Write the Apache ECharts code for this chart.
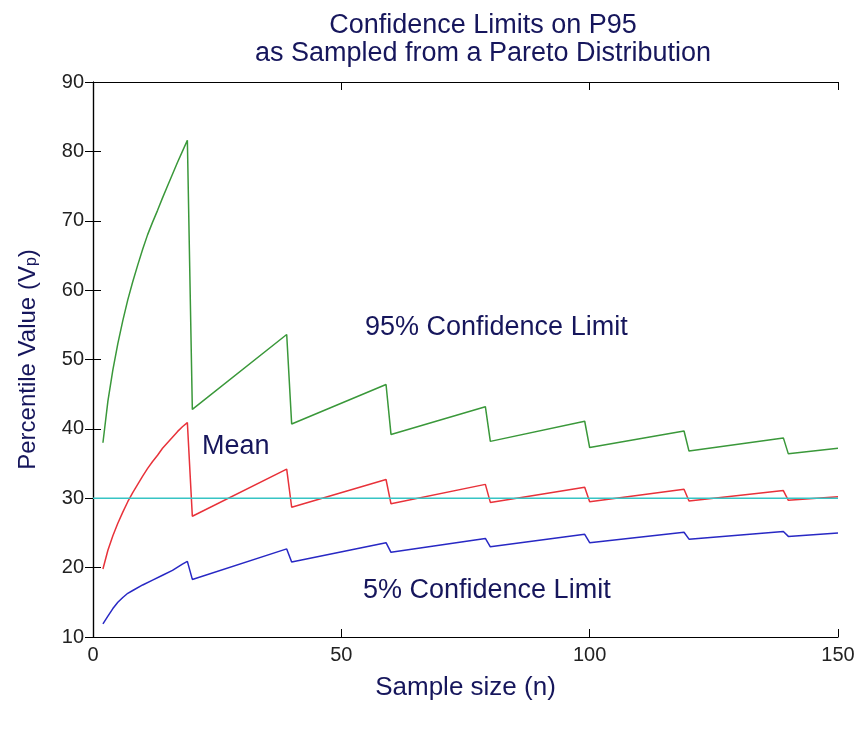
<!DOCTYPE html>
<html>
<head>
<meta charset="utf-8">
<title>Confidence Limits on P95</title>
<script src="https://cdn.jsdelivr.net/npm/echarts@6/dist/echarts.min.js"></script>
<style>
  html, body { margin: 0; padding: 0; background: #fff; }
  #main { width: 860px; height: 732px; }
</style>
</head>
<body>
<div id="main"></div>
<script>
// sample sizes (n) and the values, one list per curve
const upperN = [2, 3, 4, 5, 6, 7, 8, 9, 10, 11, 12, 13, 14, 15, 16, 17, 18, 19,
  20, 39, 40, 59, 60, 79, 80, 99, 100, 119, 120, 139, 140, 150];
const upperVals = [38.0, 44.0, 48.5, 52.3, 55.6, 58.6, 61.2, 63.6, 65.9, 68.0, 69.8, 71.5, 73.3, 75.0, 76.7, 78.4, 80.0, 81.6,
  42.8, 53.6, 40.7, 46.4, 39.2, 43.2, 38.2, 41.1, 37.3, 39.7, 36.8, 38.7, 36.4, 37.2];

const meanN = [2, 2.4, 3, 4, 5, 6, 7, 8, 9, 10, 11, 12, 13, 14, 15, 16, 17, 18, 19,
  20, 39, 40, 59, 60, 79, 80, 99, 100, 119, 120, 139, 140, 150];
const meanVals = [19.8, 19.9, 22.5, 24.6, 26.4, 28.0, 29.5, 30.8, 32.0, 33.2, 34.3, 35.3, 36.2, 37.2, 38.0, 38.8, 39.6, 40.3, 40.9,
  27.4, 34.2, 28.7, 32.7, 29.2, 32.0, 29.4, 31.6, 29.5, 31.3, 29.6, 31.1, 29.7, 30.2];

const lowerN = [2, 3, 4, 5, 6, 7, 8, 10, 12, 14, 16, 18, 19,
  20, 39, 40, 59, 60, 79, 80, 99, 100, 119, 120, 139, 140, 150];
const lowerVals = [11.9, 13.0, 14.1, 15.0, 15.7, 16.3, 16.7, 17.5, 18.2, 18.9, 19.6, 20.5, 20.9,
  18.3, 22.7, 20.8, 23.6, 22.2, 24.2, 23.0, 24.8, 23.6, 25.1, 24.1, 25.2, 24.5, 25.0];

const trueN = [0, 150];
const trueVals = [30, 30];

const xTicks = [0, 50, 100, 150];
const yTicks = [10, 20, 30, 40, 50, 60, 70, 80, 90];

const navy = "#16165c";
const font = "Arial, 'Liberation Sans', sans-serif";

function pairs(xs, ys) {
  return xs.map((x, i) => [x, ys[i]]);
}

const chart = echarts.init(document.getElementById("main"));

const frameAxis = {
  min: 0,
  axisLine: { show: true, lineStyle: { color: "#000", width: 1.2 } },
  axisTick: { show: true, inside: true, length: 8, lineStyle: { color: "#000" } },
  splitLine: { show: false }
};

const option = {
  animation: false,
  backgroundColor: "#fff",
  title: {
    text: "Confidence Limits on P95\nas Sampled from a Pareto Distribution",
    left: 478,
    top: 7,
    textAlign: "center",
    textStyle: { color: navy, fontFamily: font, fontSize: 27, fontWeight: "normal", lineHeight: 28 }
  },
  grid: { left: 93, right: 22, top: 82, bottom: 95 },
  xAxis: [
    Object.assign({}, frameAxis, {
      type: "value", position: "bottom", max: xTicks[xTicks.length - 1], interval: 50,
      name: "Sample size (n)", nameLocation: "middle", nameGap: 38,
      nameTextStyle: { color: navy, fontFamily: font, fontSize: 26 },
      axisLabel: { color: "#222", fontFamily: font, fontSize: 20, margin: 8 }
    }),
    Object.assign({}, frameAxis, {
      type: "value", position: "top", max: xTicks[xTicks.length - 1], interval: 50,
      axisLabel: { show: false }
    })
  ],
  yAxis: [
    Object.assign({}, frameAxis, {
      type: "value", position: "left", min: yTicks[0], max: yTicks[yTicks.length - 1], interval: 10,
      name: "Percentile Value (V{sub|p})", nameLocation: "middle", nameGap: 53,
      nameTextStyle: {
        color: navy, fontFamily: font, fontSize: 24,
        rich: { sub: { color: navy, fontFamily: font, fontSize: 16, verticalAlign: "bottom", padding: [8, 0, 0, 0] } }
      },
      axisLabel: { color: "#222", fontFamily: font, fontSize: 20, margin: 9 }
    }),
    Object.assign({}, frameAxis, {
      type: "value", position: "right", min: yTicks[0], max: yTicks[yTicks.length - 1], interval: 10,
      axisLabel: { show: false }
    })
  ],
  series: [
    {
      name: "95% Confidence Limit", type: "line", data: pairs(upperN, upperVals),
      showSymbol: false, lineStyle: { color: "#3a983a", width: 1.5 }, z: 2
    },
    {
      name: "Mean", type: "line", data: pairs(meanN, meanVals),
      showSymbol: false, lineStyle: { color: "#e8323a", width: 1.5 }, z: 2
    },
    {
      name: "5% Confidence Limit", type: "line", data: pairs(lowerN, lowerVals),
      showSymbol: false, lineStyle: { color: "#2828c4", width: 1.5 }, z: 2
    },
    {
      name: "True P95", type: "line", data: pairs(trueN, trueVals),
      showSymbol: false, lineStyle: { color: "#36c4c4", width: 1.6 }, z: 3
    }
  ],
  graphic: [
    { type: "text", left: 365, top: 314, style: { text: "95% Confidence Limit", fill: navy, font: "27px " + font } },
    { type: "text", left: 202, top: 433, style: { text: "Mean", fill: navy, font: "27px " + font } },
    { type: "text", left: 363, top: 577, style: { text: "5% Confidence Limit", fill: navy, font: "27px " + font } }
  ]
};

chart.setOption(option);
</script>
</body>
</html>
